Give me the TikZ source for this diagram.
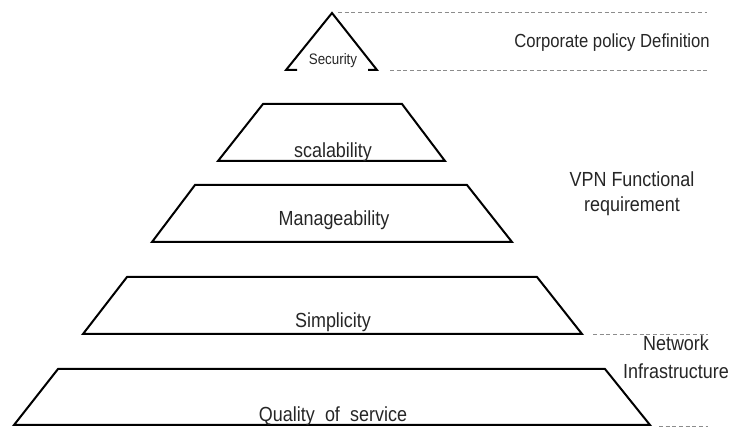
\documentclass[tikz,border=0pt]{standalone}
\usepackage{fontspec}
\setmainfont{Liberation Sans}[FakeStretch=0.88]
\begin{document}
\begin{tikzpicture}[x=0.75pt, y=-0.75pt,
    layer/.style={draw=black, line width=1.5pt, line join=miter},
    guide/.style={draw=black!45, dash pattern=on 3pt off 2pt, line width=0.6pt},
    tag/.style={font=\fontsize{15.3}{20}\selectfont, text=black!85, inner sep=0pt, anchor=base},
    side/.style={font=\fontsize{15.3}{19}\selectfont, text=black!85, align=center, inner sep=0pt}
]
\useasboundingbox (0,0) rectangle (733,427);

% pyramid levels
\draw[layer] (297,70) -- (286,70) -- (332,13) -- (377,70) -- (368,70);
\draw[layer] (263,104) -- (402,104) -- (445,161) -- (218,161) -- cycle;
\draw[layer] (195,185) -- (467,185) -- (512,242) -- (152,242) -- cycle;
\draw[layer] (127,277) -- (537,277) -- (582,334) -- (83,334) -- cycle;
\draw[layer] (58,369) -- (605,369) -- (650,425) -- (14,425) -- cycle;

\node[tag, font=\fontsize{11.4}{13}\selectfont] (security) at (333,65) {Security};
\node[tag] (scal) at (333,158) {scalability};
\node[tag] (manage) at (334,226) {Manageability};
\node[tag] (simple) at (333,328) {Simplicity};
\node[tag] (qos) at (333,422) {Quality\hspace{0.5em}of\hspace{0.5em}service};

% dashed separators
\draw[guide] (338,12) -- (707,12);
\draw[guide] (390,70) -- (707,70);
\draw[guide] (593,334) -- (708,334);
\draw[guide] (659,426) -- (708,426);

\node[side, font=\fontsize{14.2}{17}\selectfont] (corp) at (612,43) {Corporate policy Definition};
\node[side] (vpn) at (632,194) {VPN Functional\\requirement};
\node[side, font=\fontsize{15.3}{21}\selectfont] (infra) at (676,357) {Network\\Infrastructure};

\end{tikzpicture}
\end{document}
